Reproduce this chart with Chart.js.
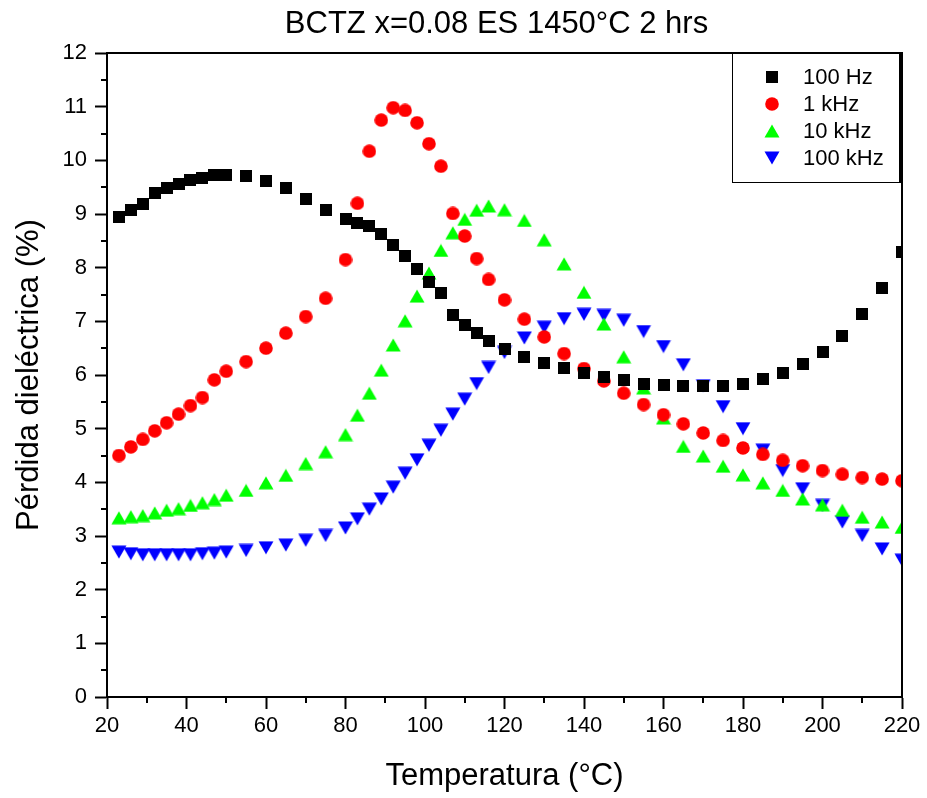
<!DOCTYPE html>
<html>
<head>
<meta charset="utf-8">
<script src="https://cdn.jsdelivr.net/npm/chart.js@4/dist/chart.umd.min.js"></script>
<style>
  html, body { margin: 0; padding: 0; background: #ffffff; }
  #wrap { width: 927px; height: 798px; }
</style>
</head>
<body>
<div id="wrap"><canvas id="chart" width="927" height="798"></canvas></div>
<script>
// Temperature sweep (°C) shared by every frequency
const temperatures = [
  23, 26, 29, 32, 35, 38, 41, 44, 47, 50,
  55, 60, 65, 70, 75, 80,
  83, 86, 89, 92, 95, 98, 101, 104, 107, 110, 113, 116,
  120, 125, 130, 135, 140, 145, 150, 155, 160, 165, 170, 175,
  180, 185, 190, 195, 200, 205, 210, 215, 220
];

// Dielectric loss (%) per measuring frequency
const loss100Hz = [
  8.94, 9.07, 9.19, 9.40, 9.48, 9.56, 9.63, 9.68, 9.73, 9.73,
  9.71, 9.62, 9.48, 9.28, 9.08, 8.90,
  8.84, 8.77, 8.62, 8.43, 8.21, 7.98, 7.73, 7.52, 7.11, 6.94, 6.78, 6.63,
  6.49, 6.34, 6.22, 6.13, 6.03, 5.96, 5.90, 5.83, 5.81, 5.79, 5.79, 5.79,
  5.84, 5.92, 6.04, 6.20, 6.42, 6.72, 7.13, 7.63, 8.30
];
const loss1kHz = [
  4.50, 4.66, 4.80, 4.96, 5.11, 5.27, 5.43, 5.58, 5.91, 6.07,
  6.25, 6.50, 6.78, 7.09, 7.43, 8.15,
  9.20, 10.17, 10.75, 10.98, 10.93, 10.70, 10.31, 9.89, 9.01, 8.59, 8.17, 7.78,
  7.40, 7.04, 6.71, 6.40, 6.12, 5.89, 5.66, 5.45, 5.26, 5.09, 4.92, 4.78,
  4.64, 4.52, 4.41, 4.31, 4.22, 4.15, 4.09, 4.06, 4.03
];
const loss10kHz = [
  3.34, 3.36, 3.38, 3.43, 3.48, 3.51, 3.57, 3.62, 3.68, 3.76,
  3.85, 3.99, 4.13, 4.35, 4.57, 4.89,
  5.25, 5.66, 6.09, 6.56, 7.01, 7.47, 7.90, 8.32, 8.65, 8.90, 9.07, 9.15,
  9.08, 8.88, 8.52, 8.07, 7.54, 6.95, 6.34, 5.76, 5.20, 4.67, 4.49, 4.30,
  4.14, 3.99, 3.85, 3.69, 3.58, 3.48, 3.35, 3.26, 3.16
];
const loss100kHz = [
  2.70, 2.67, 2.65, 2.65, 2.65, 2.65, 2.65, 2.67, 2.68, 2.70,
  2.73, 2.78, 2.83, 2.92, 3.01, 3.15,
  3.32, 3.50, 3.69, 3.91, 4.17, 4.42, 4.69, 4.97, 5.27, 5.55, 5.84, 6.14,
  6.42, 6.69, 6.89, 7.05, 7.13, 7.11, 7.02, 6.81, 6.53, 6.19, 5.80, 5.41,
  5.00, 4.60, 4.22, 3.88, 3.57, 3.26, 3.01, 2.76, 2.55
];

const seriesLabels = ['100 Hz', '1 kHz', '10 kHz', '100 kHz'];
const seriesValues = [loss100Hz, loss1kHz, loss10kHz, loss100kHz];
const seriesColors = ['#000000', '#ff0000', '#00ff00', '#0000ff'];
const seriesShapes = ['square', 'circle', 'triangleUp', 'triangleDown'];

const chartTitle = 'BCTZ x=0.08 ES 1450°C 2 hrs';
const FONT = "'Liberation Sans', Arial, Helvetica, sans-serif";

// Small bitmap symbols, centred on their bounding box
function makeSymbol(shape, color) {
  const c = document.createElement('canvas');
  let w, h;
  if (shape === 'square') { w = 12; h = 12; }
  else if (shape === 'circle') { w = 14; h = 14; }
  else { w = 16; h = 14; }
  c.width = w; c.height = h;
  const g = c.getContext('2d');
  g.fillStyle = color;
  g.beginPath();
  if (shape === 'square') {
    g.rect(0, 0, w, h);
  } else if (shape === 'circle') {
    g.arc(w / 2, h / 2, 6.8, 0, Math.PI * 2);
  } else if (shape === 'triangleUp') {
    g.moveTo(w / 2, 0.5); g.lineTo(w - 0.5, h - 0.5); g.lineTo(0.5, h - 0.5);
  } else {
    g.moveTo(0.5, 0.5); g.lineTo(w - 0.5, 0.5); g.lineTo(w / 2, h - 0.5);
  }
  g.closePath();
  g.fill();
  return c;
}

const symbols = seriesShapes.map((s, i) => makeSymbol(s, seriesColors[i]));

const datasets = seriesLabels.map((label, i) => ({
  label: label,
  data: temperatures.map((t, k) => ({ x: t, y: seriesValues[i][k] })),
  pointStyle: symbols[i],
  pointRadius: 7,
  backgroundColor: seriesColors[i],
  borderColor: seriesColors[i],
  showLine: false,
  clip: 0
}));

// Title over the plot, plot frame, minor ticks and the boxed legend
const framePlugin = {
  id: 'frameAndLegend',
  afterDatasetsDraw(chart) {
    const { ctx, chartArea: a, scales } = chart;
    ctx.save();
    ctx.strokeStyle = '#000';
    ctx.lineWidth = 2;
    ctx.strokeRect(a.left, a.top, a.right - a.left, a.bottom - a.top);

    // minor ticks
    ctx.beginPath();
    for (let v = 30; v < 220; v += 20) {
      const px = Math.round(scales.x.getPixelForValue(v));
      ctx.moveTo(px, a.bottom); ctx.lineTo(px, a.bottom + 6);
    }
    for (let v = 0.5; v < 12; v += 1) {
      const py = Math.round(scales.y.getPixelForValue(v));
      ctx.moveTo(a.left, py); ctx.lineTo(a.left - 6, py);
    }
    ctx.stroke();
    ctx.restore();
  },
  afterDraw(chart) {
    const { ctx, chartArea: a } = chart;
    ctx.save();

    // title, centred on the plot area
    ctx.font = '31px ' + FONT;
    ctx.fillStyle = '#000';
    ctx.textAlign = 'center';
    ctx.textBaseline = 'alphabetic';
    ctx.fillText(chartTitle, (a.left + a.right) / 2 - 8, 33);

    const boxL = 732, boxT = a.top, boxR = a.right - 2, boxB = 183;
    ctx.fillStyle = '#fff';
    ctx.fillRect(boxL, boxT, boxR - boxL, boxB - boxT);
    ctx.strokeStyle = '#000';
    ctx.lineWidth = 1;
    ctx.strokeRect(boxL + 0.5, boxT + 0.5, boxR - boxL - 1, boxB - boxT - 1);
    ctx.lineWidth = 2;
    ctx.beginPath();
    ctx.moveTo(boxR, boxT); ctx.lineTo(boxR, boxB);
    ctx.stroke();

    ctx.font = '22px ' + FONT;
    ctx.textBaseline = 'middle';
    ctx.textAlign = 'left';
    ctx.fillStyle = '#000';
    chart.data.datasets.forEach((ds, i) => {
      const cy = 77 + i * 27;
      const img = ds.pointStyle;
      ctx.drawImage(img, 772 - img.width / 2, cy - img.height / 2);
      ctx.fillText(ds.label, 803, cy + 1);
    });
    ctx.restore();
  }
};

new Chart(document.getElementById('chart'), {
  type: 'scatter',
  data: { datasets },
  options: {
    responsive: false,
    animation: false,
    events: [],
    layout: { padding: { top: 53, right: 25, bottom: 0, left: 0 } },
    plugins: {
      legend: { display: false },
      tooltip: { enabled: false },
      title: { display: false }
    },
    scales: {
      x: {
        type: 'linear',
        min: 20,
        max: 220,
        afterFit(scale) { scale.height = 101; },
        ticks: {
          stepSize: 20,
          color: '#000',
          padding: 4,
          maxRotation: 0,
          font: { family: FONT, size: 22 }
        },
        grid: {
          display: true,
          drawOnChartArea: false,
          drawTicks: true,
          tickLength: 12,
          tickWidth: 2,
          tickColor: '#000',
          color: '#000'
        },
        border: { display: true, color: '#000', width: 2 },
        title: {
          display: true,
          text: 'Temperatura (°C)',
          color: '#000',
          font: { family: FONT, size: 31 },
          padding: { top: 0, bottom: 3 }
        }
      },
      y: {
        min: 0,
        max: 12,
        afterFit(scale) { scale.width = 107; },
        ticks: {
          stepSize: 1,
          color: '#000',
          padding: 8,
          font: { family: FONT, size: 22 }
        },
        grid: {
          display: true,
          drawOnChartArea: false,
          drawTicks: true,
          tickLength: 12,
          tickWidth: 2,
          tickColor: '#000',
          color: '#000'
        },
        border: { display: true, color: '#000', width: 2 },
        title: {
          display: true,
          text: 'Pérdida dieléctrica (%)',
          color: '#000',
          font: { family: FONT, size: 31 },
          padding: { top: 11, bottom: 0 }
        }
      }
    }
  },
  plugins: [framePlugin]
});
</script>
</body>
</html>
